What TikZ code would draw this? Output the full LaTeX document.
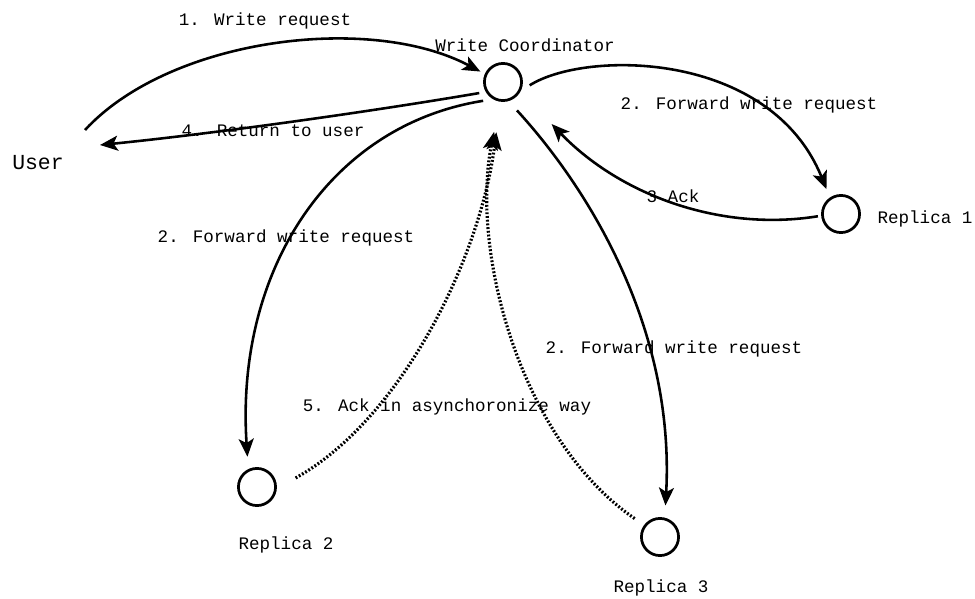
\documentclass[tikz,border=0pt]{standalone}
\usepackage{fontspec}
\setmainfont{Liberation Mono}
\usetikzlibrary{arrows.meta,positioning}
\tikzstyle{replica} = [circle, draw, line width=1.9pt, minimum size=26pt, inner sep=0pt]
\tikzstyle{arrow} = [-{Stealth[length=12.5pt,width=10.5pt,inset=3pt]}, line width=1.8pt]
\tikzstyle{async} = [arrow, line width=2.2pt, dash pattern=on 1.3pt off 1.3pt]
\tikzstyle{lbl} = [font=\fontsize{12.3}{14}\selectfont, inner sep=1pt]

\begin{document}
\begin{tikzpicture}[x=0.7pt, y=-0.7pt]
\useasboundingbox (0,0) rectangle (975,599);
% nodes
\node[font=\fontsize{15}{18}\selectfont] (user) at (38,163) {User};
\node[replica] (wc) at (503,82) {};
\node[replica] (r1) at (841,214) {};
\node[replica] (r2) at (257,487) {};
\node[replica] (r3) at (660,537) {};
\node[lbl] (wcl) at (525,45) {Write Coordinator};
\node[lbl] (r1l) at (925,219) {Replica 1};
\node[lbl] (r2l) at (286,545) {Replica 2};
\node[lbl] (r3l) at (661,588) {Replica 3};
% labels of the connectors
\node[lbl] (l1) at (265,21) {1. Write request};
\node[lbl] (l4) at (273,131) {4. Return to user};
\node[lbl] (l2a) at (749,105) {2. Forward write request};
\node[lbl] (l3) at (673,196) {3 Ack};
\node[lbl] (l2b) at (286,238) {2. Forward write request};
\node[lbl] (l2c) at (674,349) {2. Forward write request};
\node[lbl] (l5) at (447,407) {5. Ack in asynchoronize way};
% user <-> coordinator
\draw[arrow, shorten >=3.5pt] ([shift={(47,-33)}]user.center) .. controls (170,38) and (370,13) .. (wc.156);
\draw[arrow, shorten <=4.6pt] (wc.210) .. controls (350,115) and (200,135) .. ([shift={(62,-18)}]user.center);
% coordinator <-> replicas
\draw[arrow, shorten <=7.4pt, shorten >=6.3pt] (wc.-27) .. controls (585,50) and (770,50) .. (r1.124);
\draw[arrow, shorten <=2.3pt, shorten >=31.5pt] (r1.185) .. controls (720,232) and (620,195) .. (wc.-29);
\draw[arrow, shorten <=7pt, shorten >=8.7pt] (wc.240) .. controls (330,125) and (235,270) .. (r2.116);
\draw[arrow, shorten <=8.8pt, shorten >=8.5pt] (wc.286) .. controls (590,190) and (675,330) .. (r3.76);
% asynchronous acks
\draw[async, shorten <=15pt, shorten >=21.5pt] (r2.-4) .. controls (400,420) and (480,260) .. (wc.262);
\draw[async, shorten <=8pt, shorten >=21.5pt] (r3.143) .. controls (520,440) and (470,250) .. (wc.262);
\end{tikzpicture}
\end{document}
